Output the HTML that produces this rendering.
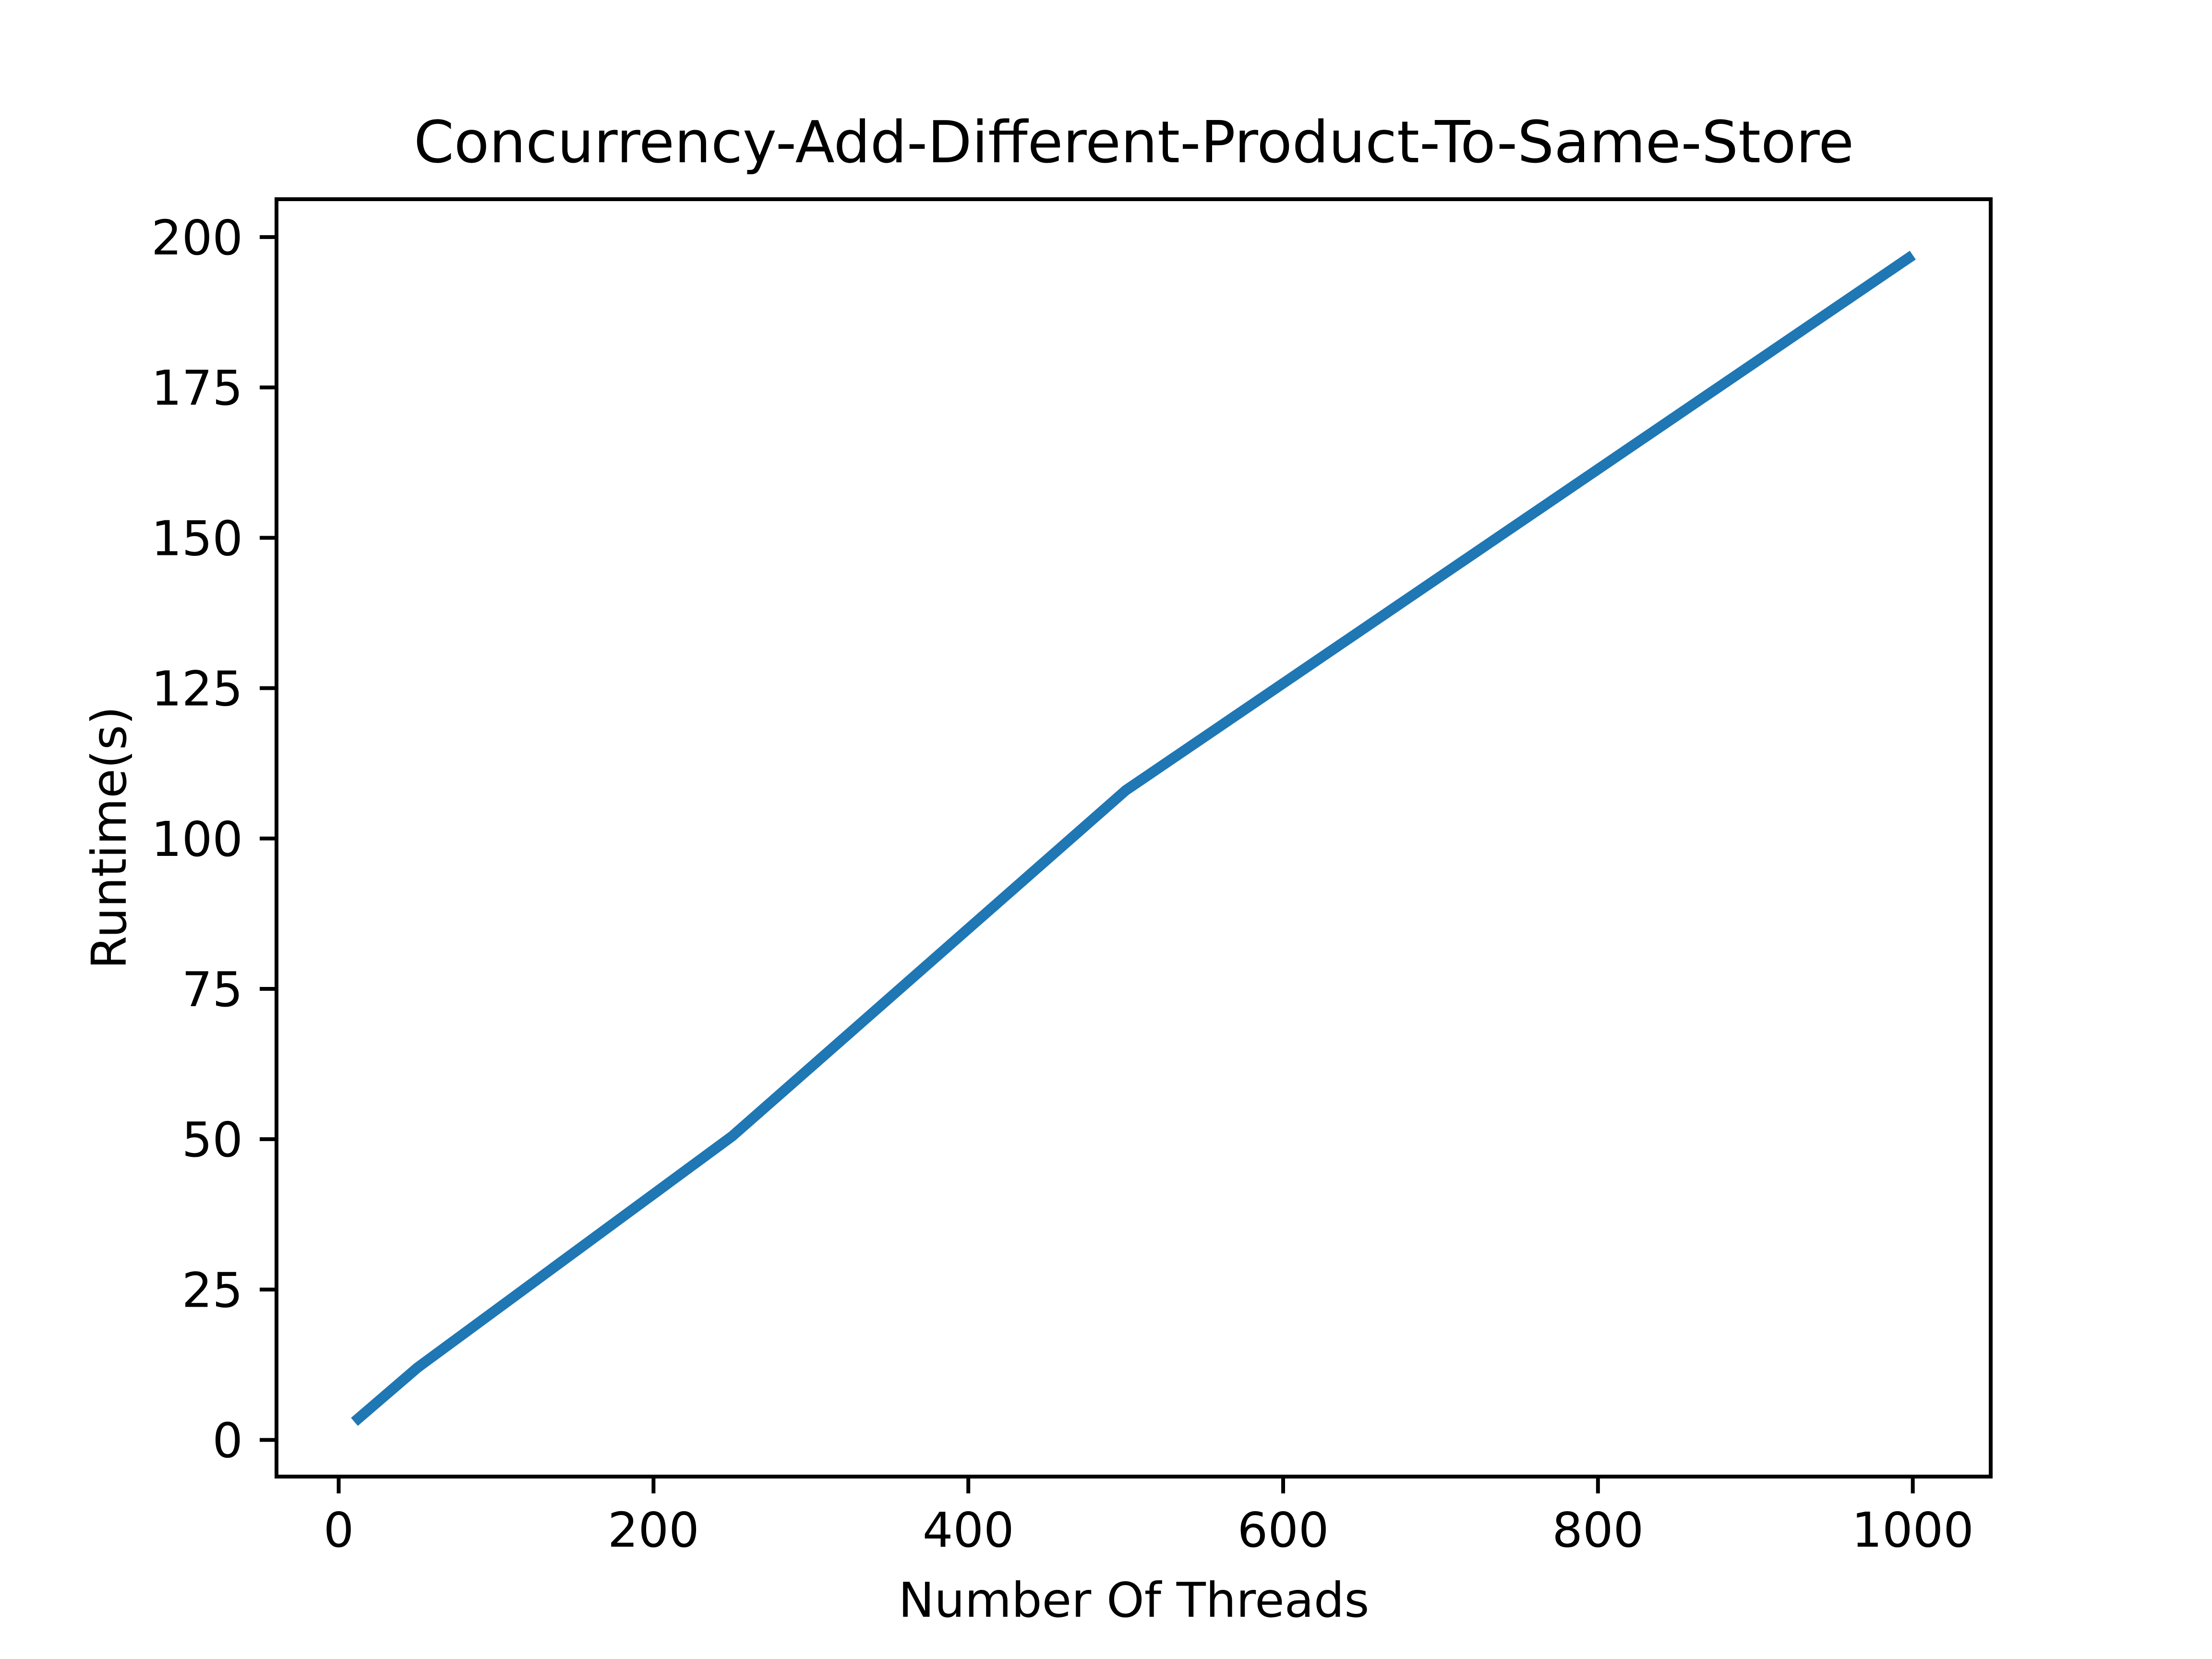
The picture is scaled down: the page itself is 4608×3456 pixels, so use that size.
<!DOCTYPE html>
<html><head><meta charset="utf-8"><style>
html,body{margin:0;padding:0;background:#fff}
svg{display:block}
text{font-family:"DejaVu Sans","Liberation Sans",sans-serif;fill:#000}
</style></head><body>
<svg id="chart" width="4608" height="3456" viewBox="0 0 4608 3456" xmlns="http://www.w3.org/2000/svg">
<rect width="4608" height="3456" fill="#fff"/>
<g id="plot"></g>
<text x="2362" y="338" font-size="120" text-anchor="middle">Concurrency-Add-Different-Product-To-Same-Store</text>
<text x="2362" y="3368" font-size="100" text-anchor="middle">Number Of Threads</text>
<text x="0" y="0" font-size="100" text-anchor="middle" transform="translate(262,1745) rotate(-90)">Runtime(s)</text>
</svg>
<script>
const threads = [10, 50, 250, 500, 1000];
const runtimes = [3, 12, 50.5, 108, 197];
const xTicks = [0, 200, 400, 600, 800, 1000];
const yTicks = [0, 25, 50, 75, 100, 125, 150, 175, 200];

const L = 576, R = 4147, T = 415, B = 3076;
const xMin = -39.5, xMax = 1049.5, yMin = -6.1, yMax = 206.3;
const sx = v => L + (v - xMin) / (xMax - xMin) * (R - L);
const sy = v => B - (v - yMin) / (yMax - yMin) * (B - T);
const NS = "http://www.w3.org/2000/svg";
const g = document.getElementById("plot");
function mk(tag, attrs) { const e = document.createElementNS(NS, tag); for (const k in attrs) e.setAttribute(k, attrs[k]); g.appendChild(e); return e; }

const line = mk("polyline", {points: threads.map((t, i) => sx(t) + "," + sy(runtimes[i])).join(" "), fill: "none", stroke: "#1f77b4", "stroke-width": 22, "stroke-linejoin": "round", "stroke-linecap": "butt"});



xTicks.forEach(v => {
  const x = sx(v);
  const t = mk("line", {x1: x, x2: x, y1: B, y2: B + 35, stroke: "#000", "stroke-width": 8});
  
  
  const lb = mk("text", {x: x, y: B + 70 + 76, "font-size": 100, "text-anchor": "middle"});
  lb.textContent = v;
  
  
});
yTicks.forEach(v => {
  const y = sy(v);
  const t = mk("line", {x1: L - 35, x2: L, y1: y, y2: y, stroke: "#000", "stroke-width": 8});
  
  
  const lb = mk("text", {x: L - 70, y: y + 36, "font-size": 100, "text-anchor": "end"});
  lb.textContent = v;
  
  
});
const frame = mk("rect", {x: L, y: T, width: R - L, height: B - T, fill: "none", stroke: "#000", "stroke-width": 8});


</script>
</body></html>
